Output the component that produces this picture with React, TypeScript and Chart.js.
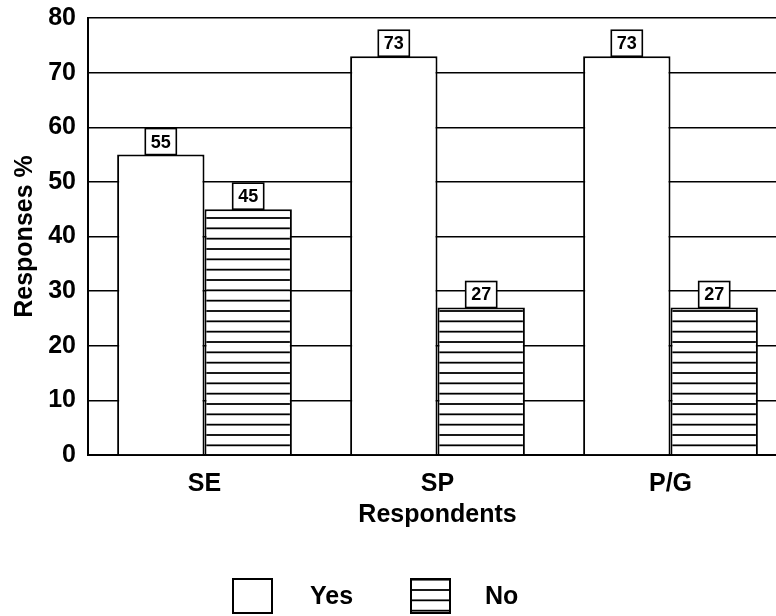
import React, { useEffect, useRef } from "react";
import { Chart, registerables } from "chart.js";

Chart.register(...registerables);

const categories = ["SE", "SP", "P/G"];
const yesValues = [55, 73, 73];
const noValues = [45, 27, 27];
const seriesNames = ["Yes", "No"];
const yTickMax = 80;
const yTickStep = 10;

const FONT = "'Liberation Sans', Arial, Helvetica, sans-serif";

function makeHatch(): CanvasPattern | string {
  const tile = document.createElement("canvas");
  tile.width = 8;
  tile.height = 31;
  const c = tile.getContext("2d");
  if (!c) return "#fff";
  c.fillStyle = "#fff";
  c.fillRect(0, 0, 8, 31);
  c.strokeStyle = "#000";
  c.lineWidth = 1.8;
  [1, 11.33, 21.67].forEach((y) => {
    c.beginPath();
    c.moveTo(0, y);
    c.lineTo(8, y);
    c.stroke();
  });
  const ctx = document.createElement("canvas").getContext("2d");
  const p = ctx ? ctx.createPattern(tile, "repeat") : null;
  return p || "#fff";
}

const valueBoxes = {
  id: "valueBoxes",
  afterDatasetsDraw(chart: any) {
    const ctx = chart.ctx;
    ctx.save();
    chart.data.datasets.forEach((ds: any, di: number) => {
      const meta = chart.getDatasetMeta(di);
      meta.data.forEach((bar: any, i: number) => {
        const v = ds.data[i];
        const w = 31;
        const h = 26;
        const x = bar.x - w / 2;
        const y = bar.y - h;
        ctx.fillStyle = "#fff";
        ctx.fillRect(x, y, w, h);
        ctx.strokeStyle = "#000";
        ctx.lineWidth = 1.6;
        ctx.strokeRect(x, y, w, h);
        ctx.fillStyle = "#000";
        ctx.font = `bold 18px ${FONT}`;
        ctx.textAlign = "center";
        ctx.textBaseline = "middle";
        ctx.fillText(String(v), bar.x, y + h / 2 + 1);
      });
    });
    ctx.restore();
  },
};

const customLegend = {
  id: "customLegend",
  afterDraw(chart: any) {
    const ctx = chart.ctx;
    const boxX = [233, 411];
    const textX = [310, 485];
    const boxY = 579;
    const boxW = 39;
    const boxH = 34;
    ctx.save();
    chart.data.datasets.forEach((ds: any, i: number) => {
      ctx.fillStyle = ds.backgroundColor;
      ctx.beginPath();
      ctx.rect(boxX[i], boxY, boxW, boxH);
      ctx.fill();
      ctx.strokeStyle = "#000";
      ctx.lineWidth = 2;
      ctx.stroke();
      ctx.fillStyle = "#000";
      ctx.font = `bold 25px ${FONT}`;
      ctx.textAlign = "left";
      ctx.textBaseline = "middle";
      ctx.fillText(ds.label, textX[i], boxY + boxH / 2 + 1);
    });
    ctx.restore();
  },
};

export default function App() {
  const ref = useRef<HTMLCanvasElement | null>(null);

  useEffect(() => {
    if (!ref.current) return;
    const hatch = makeHatch();
    const chart = new Chart(ref.current, {
      type: "bar",
      data: {
        labels: categories,
        datasets: [
          {
            label: seriesNames[0],
            data: yesValues,
            backgroundColor: "#ffffff",
            borderColor: "#000000",
            borderWidth: 2,
            borderSkipped: "start",
          },
          {
            label: seriesNames[1],
            data: noValues,
            backgroundColor: hatch as any,
            borderColor: "#000000",
            borderWidth: 2,
            borderSkipped: "start",
          },
        ],
      },
      options: {
        responsive: false,
        animation: false,
        devicePixelRatio: 1,
        layout: { padding: { top: 18, left: 0, right: 3, bottom: 0 } },
        datasets: {
          bar: { categoryPercentage: 0.75, barPercentage: 1 },
        },
        plugins: {
          legend: { display: false },
          tooltip: { enabled: false },
        },
        scales: {
          x: {
            grid: { display: false, drawTicks: false, tickLength: 0 },
            border: { display: true, color: "#000", width: 2 },
            ticks: {
              color: "#000",
              padding: 14,
              font: { family: FONT, size: 25, weight: "bold" },
            },
            title: {
              display: true,
              text: "Respondents",
              color: "#000",
              font: { family: FONT, size: 25, weight: "bold" },
              padding: { top: 0, bottom: 86 },
            },
            afterFit(scale: any) {
              scale.height = 161;
              scale.paddingLeft = 0;
              scale.paddingRight = 0;
            },
          },
          y: {
            min: 0,
            max: yTickMax,
            grid: { color: "#000", lineWidth: 1.5, drawTicks: false, tickLength: 0 },
            border: { display: true, color: "#000", width: 2 },
            ticks: {
              stepSize: yTickStep,
              color: "#000",
              padding: 12,
              font: { family: FONT, size: 25, weight: "bold" },
            },
            title: {
              display: true,
              text: "Responses %",
              color: "#000",
              font: { family: FONT, size: 25, weight: "bold" },
              padding: { top: 10, bottom: 0 },
            },
            afterFit(scale: any) {
              scale.width = 88;
              scale.paddingTop = 0;
              scale.paddingBottom = 0;
            },
          },
        },
      },
      plugins: [valueBoxes, customLegend],
    });
    return () => chart.destroy();
  }, []);

  return (
    <div
      style={{
        position: "absolute",
        left: 0,
        top: 0,
        width: 776,
        height: 616,
        overflow: "hidden",
        background: "#fff",
      }}
    >
      <canvas ref={ref} width={790} height={616} style={{ width: 790, height: 616, display: "block" }} />
    </div>
  );
}
